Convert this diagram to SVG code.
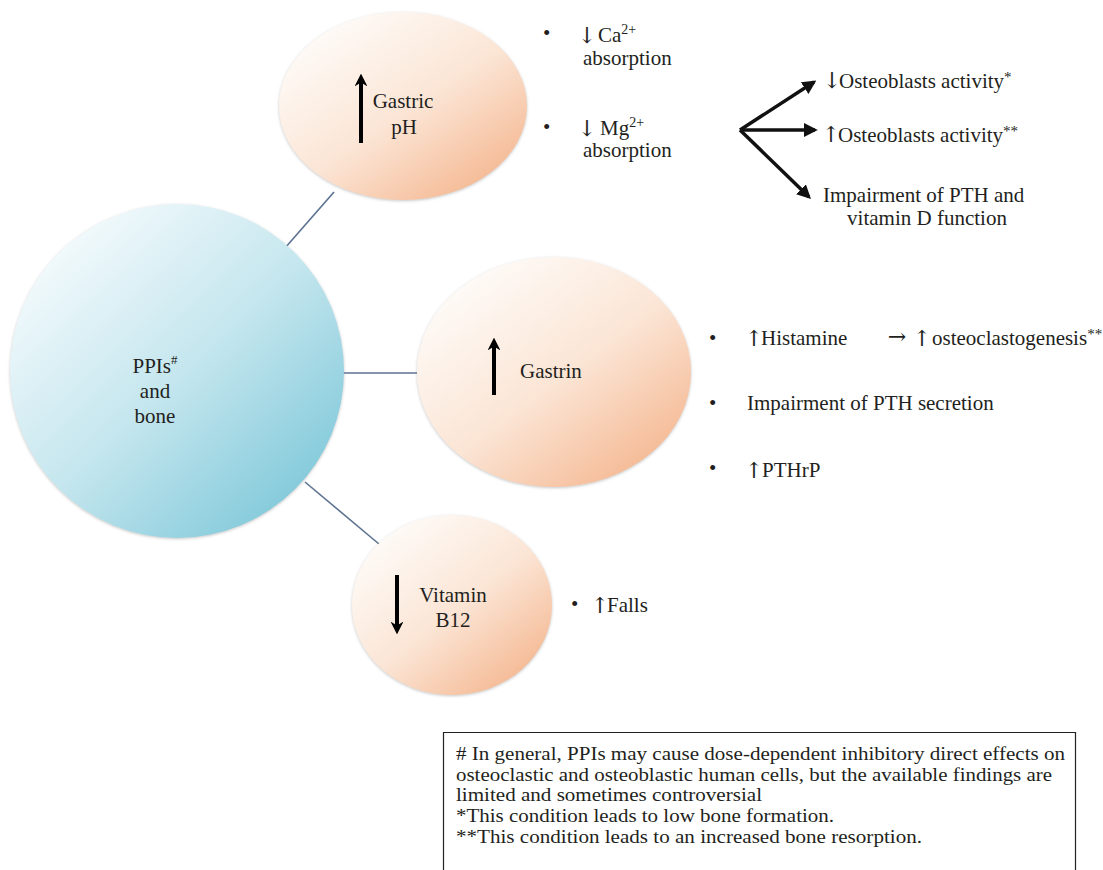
<svg xmlns="http://www.w3.org/2000/svg" width="1103" height="870" viewBox="0 0 1103 870">
<defs>
  <linearGradient id="gOrange" x1="0.15" y1="0.1" x2="0.9" y2="0.95">
    <stop offset="0" stop-color="#fefbf8"/>
    <stop offset="0.5" stop-color="#fbe5d5"/>
    <stop offset="1" stop-color="#f4b48c"/>
  </linearGradient>
  <linearGradient id="gBlue" x1="0.1" y1="0.1" x2="0.9" y2="0.95">
    <stop offset="0" stop-color="#f6fbfd"/>
    <stop offset="0.5" stop-color="#c4e6ee"/>
    <stop offset="1" stop-color="#7ac6d8"/>
  </linearGradient>
  <filter id="sh" x="-10%" y="-10%" width="120%" height="120%">
    <feDropShadow dx="0" dy="1" stdDeviation="1.5" flood-color="#808080" flood-opacity="0.45"/>
  </filter>
  <marker id="bigHead" viewBox="0 0 10 10" refX="5" refY="5" markerWidth="3.2" markerHeight="3.2" orient="auto">
    <path d="M0,0 L10,5 L0,10 L3,5 Z" fill="#000"/>
  </marker>
  <marker id="forkHead" viewBox="0 0 10 10" refX="8" refY="5" markerWidth="4" markerHeight="4" orient="auto">
    <path d="M0,0 L10,5 L0,10 Z" fill="#111"/>
  </marker>
  <style>
    text { font-family: "Liberation Serif", "Times New Roman", serif; fill: #231f20; }
    .t { font-size: 21px; }
    .ar { font-family: "DejaVu Serif", "Liberation Serif", serif; font-size: 22px; text-anchor: middle; }
    .fn { font-size: 18px; }
    .c { text-anchor: middle; }
    .conn { stroke: #5d7391; stroke-width: 1.6; fill: none; }
    .big { stroke: #000; stroke-width: 4; fill: none; marker-end: url(#bigHead); }
    .fork { stroke: #111; stroke-width: 3.5; fill: none; marker-end: url(#forkHead); }
  </style>
</defs>
<rect width="1103" height="870" fill="#ffffff"/>

<g id="connectors">
  <line class="conn" x1="285" y1="248" x2="334" y2="192"/>
  <line class="conn" x1="343" y1="373" x2="418" y2="373"/>
  <line class="conn" x1="305" y1="482" x2="379" y2="544"/>
</g>

<g id="node-ppis">
  <circle cx="177" cy="371" r="167" fill="url(#gBlue)" filter="url(#sh)"/>
  <text class="t c" x="155" y="373">PPIs<tspan font-size="13" dy="-9">#</tspan></text>
  <text class="t c" x="155" y="398">and</text>
  <text class="t c" x="155" y="423">bone</text>
</g>

<g id="node-gastric">
  <ellipse cx="403" cy="106" rx="124" ry="94" fill="url(#gOrange)" filter="url(#sh)"/>
  <line class="big" x1="361" y1="143" x2="361" y2="80"/>
  <text class="t c" x="403" y="108">Gastric</text>
  <text class="t c" x="404" y="134">pH</text>
</g>

<g id="node-gastrin">
  <ellipse cx="554" cy="372" rx="137" ry="115" fill="url(#gOrange)" filter="url(#sh)"/>
  <line class="big" x1="494" y1="395" x2="494" y2="344"/>
  <text class="t" x="520" y="378">Gastrin</text>
</g>

<g id="node-b12">
  <ellipse cx="452" cy="605" rx="100" ry="90" fill="url(#gOrange)" filter="url(#sh)"/>
  <line class="big" x1="397" y1="575" x2="397" y2="628"/>
  <text class="t c" x="453" y="602">Vitamin</text>
  <text class="t c" x="453" y="627">B12</text>
</g>

<g id="gastric-effects">
  <text class="t" x="543" y="40">•</text>
  <text class="ar" x="587" y="43">↓</text>
  <text class="t" x="598" y="42">Ca<tspan font-size="14" dy="-8">2+</tspan></text>
  <text class="t" x="583" y="65">absorption</text>
  <text class="t" x="543" y="134">•</text>
  <text class="ar" x="587" y="136">↓</text>
  <text class="t" x="600" y="135">Mg<tspan font-size="14" dy="-8">2+</tspan></text>
  <text class="t" x="583" y="157">absorption</text>
</g>

<g id="fork">
  <line class="fork" x1="740" y1="130" x2="814" y2="82"/>
  <line class="fork" x1="740" y1="130" x2="815" y2="130"/>
  <line class="fork" x1="740" y1="130" x2="809" y2="197"/>
  <text class="ar" x="832" y="88">↓</text>
  <text class="t" x="839" y="88">Osteoblasts activity<tspan font-size="15" dy="-6">*</tspan></text>
  <text class="ar" x="831" y="142">↑</text>
  <text class="t" x="838" y="142">Osteoblasts activity<tspan font-size="15" dy="-6">**</tspan></text>
  <text class="t" x="823" y="202">Impairment of PTH and</text>
  <text class="t c" x="927" y="225">vitamin D function</text>
</g>

<g id="gastrin-effects">
  <text class="t" x="709" y="345">•</text>
  <text class="ar" x="754" y="346">↑</text>
  <text class="t" x="761" y="345">Histamine</text>
  <text class="ar" x="897" y="344" font-size="26">→</text>
  <text class="ar" x="922" y="346">↑</text>
  <text class="t" x="932" y="345">osteoclastogenesis<tspan font-size="15" dy="-6">**</tspan></text>
  <text class="t" x="709" y="410">•</text>
  <text class="t" x="747" y="410">Impairment of PTH secretion</text>
  <text class="t" x="709" y="475">•</text>
  <text class="ar" x="754" y="478">↑</text>
  <text class="t" x="762" y="477">PTHrP</text>
</g>

<g id="b12-effects">
  <text class="t" x="571" y="611">•</text>
  <text class="ar" x="600" y="613">↑</text>
  <text class="t" x="607" y="612">Falls</text>
</g>

<g id="footnote">
  <path d="M443.5,872 V732.5 H1075.5 V872" fill="none" stroke="#222" stroke-width="1.2"/>
  <text class="fn" x="456" y="760" textLength="609" lengthAdjust="spacingAndGlyphs"># In general, PPIs may cause dose-dependent inhibitory direct effects on</text>
  <text class="fn" x="456" y="781" textLength="596" lengthAdjust="spacingAndGlyphs">osteoclastic and osteoblastic human cells, but the available findings are</text>
  <text class="fn" x="456" y="801" textLength="306" lengthAdjust="spacingAndGlyphs">limited and sometimes controversial</text>
  <text class="fn" x="456" y="822" textLength="378" lengthAdjust="spacingAndGlyphs">*This condition leads to low bone formation.</text>
  <text class="fn" x="456" y="843" textLength="466" lengthAdjust="spacingAndGlyphs">**This condition leads to an increased bone resorption.</text>
</g>
</svg>
